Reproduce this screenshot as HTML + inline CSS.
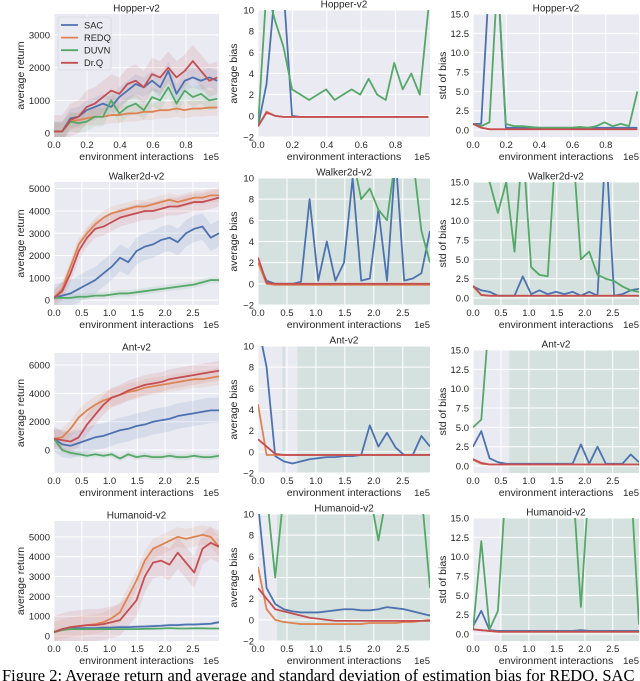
<!DOCTYPE html>
<html><head><meta charset="utf-8"><style>
body{margin:0;background:#fff;width:640px;height:681px;overflow:hidden}
svg{display:block}
text{font-family:"Liberation Sans",sans-serif;fill:#262626}
.cap{font-family:"Liberation Serif",serif;font-size:16.5px;fill:#000}
</style></head><body>
<svg id="fig" width="640" height="681" viewBox="0 0 640 681">
<text class="cap" x="2" y="681">Figure 2: Average return and average and standard deviation of estimation bias for REDQ, SAC</text>
</svg>
<script>
// ---- data (21 evenly spaced samples per series) ----
const hopRetSAC=[50,50,450,500,700,800,900,800,1100,1300,1500,1400,1600,1400,1900,1200,1600,1700,1600,1700,1600];
const hopRetREDQ=[50,50,350,400,450,500,500,550,550,600,600,650,650,700,700,750,700,750,750,780,780];
const hopRetDUVN=[50,50,350,300,350,500,500,1000,600,800,900,700,1100,1000,1400,900,1300,1100,1200,1000,1050];
const hopRetDrQ=[50,50,400,500,800,900,1100,1300,1200,1500,1600,1400,1800,1700,2000,1700,1900,2200,1900,1600,1700];
const hopBiasSAC=[-1,3,12,12,0,-0.1,-0.1,-0.1,-0.1,-0.1,-0.1,-0.1,-0.1,-0.1,-0.1,-0.1,-0.1,-0.1,-0.1,-0.1,-0.1];
const hopBiasREDQ=[-1,0.4,0,-0.1,-0.1,-0.1,-0.1,-0.1,-0.1,-0.1,-0.1,-0.1,-0.1,-0.1,-0.1,-0.1,-0.1,-0.1,-0.1,-0.1,-0.1];
const hopBiasDUVN=[-1,12,9,6.5,2.5,2,1.5,2,2.5,1.5,2,2.5,2,3.5,2,1.5,5,2.5,4,2,10];
const hopBiasDrQ=[-1,0.3,0,-0.1,-0.1,-0.1,-0.1,-0.1,-0.1,-0.1,-0.1,-0.1,-0.1,-0.1,-0.1,-0.1,-0.1,-0.1,-0.1,-0.1,-0.1];
const hopStdSAC=[0.8,0.8,20,20,0.3,0.3,0.3,0.3,0.3,0.3,0.3,0.3,0.3,0.3,0.3,0.3,0.3,0.3,0.3,0.3,0.3];
const hopStdREDQ=[0.8,0.3,0.1,0.1,0.1,0.1,0.1,0.1,0.1,0.1,0.1,0.1,0.1,0.1,0.1,0.1,0.1,0.1,0.1,0.1,0.1];
const hopStdDUVN=[0.8,0.5,1,20,0.8,0.5,0.5,0.4,0.3,0.3,0.3,0.3,0.3,0.4,0.3,0.5,1,0.5,0.8,0.5,5];
const hopStdDrQ=[0.8,0.3,0.1,0.1,0.1,0.1,0.1,0.1,0.1,0.1,0.1,0.1,0.1,0.1,0.1,0.1,0.1,0.1,0.1,0.1,0.1];

const walRetSAC=[100,200,300,500,700,900,1200,1500,1900,1700,2200,2400,2500,2700,2800,2600,3000,3200,3300,2800,3000];
const walRetREDQ=[100,500,1500,2500,3000,3400,3700,3900,4000,4100,4200,4200,4300,4400,4500,4400,4500,4600,4600,4700,4700];
const walRetDUVN=[100,100,100,150,150,200,200,250,300,300,350,400,450,500,550,600,650,700,800,900,900];
const walRetDrQ=[100,400,1200,2200,2800,3200,3300,3500,3700,3800,3900,4000,4000,4100,4200,4200,4300,4400,4400,4500,4600];
const walBiasSAC=[2,0.3,0,0,0,0.2,8,0.3,4,0.3,2,10,0.3,0.5,7,0.3,12,0.3,0.5,1,5];
const walBiasREDQ=[2,0,-0.1,-0.1,-0.1,-0.1,-0.1,-0.1,-0.1,-0.1,-0.1,-0.1,-0.1,-0.1,-0.1,-0.1,-0.1,-0.1,-0.1,-0.1,-0.1];
const walBiasDUVN=[12,12,12,12,12,12,12,12,12,12,12,12,8,9,7,6,12,12,12,5,2];
const walBiasDrQ=[2.5,0.1,0,0,0,0,0,0,0,0,0,0,0,0,0,0,0,0,0,0,0];
const walStdSAC=[1.5,1,0.8,0.3,0.3,0.3,2.8,0.5,1,0.5,0.8,0.5,0.8,0.3,0.8,0.3,20,0.3,0.5,1,1.2];
const walStdREDQ=[1.5,0.4,0.3,0.3,0.3,0.3,0.3,0.3,0.3,0.3,0.3,0.3,0.3,0.3,0.3,0.3,0.3,0.3,0.3,0.3,0.3];
const walStdDUVN=[20,20,15,11,15,6,20,4,3,2.8,20,20,20,5,6,3,2.5,2.2,1.5,1,0.8];
const walStdDrQ=[1.6,0.4,0.3,0.3,0.3,0.3,0.3,0.3,0.3,0.3,0.3,0.3,0.3,0.3,0.3,0.3,0.3,0.3,0.3,0.3,0.3];

const antRetSAC=[800,400,300,500,700,900,1000,1200,1400,1500,1700,1800,2000,2100,2200,2400,2500,2600,2700,2800,2800];
const antRetREDQ=[800,900,1500,2300,2800,3200,3500,3700,3900,4100,4200,4400,4500,4600,4700,4800,4900,5000,5000,5100,5200];
const antRetDUVN=[800,0,-200,-300,-400,-300,-400,-300,-600,-300,-500,-400,-500,-500,-400,-500,-500,-400,-500,-500,-400];
const antRetDrQ=[800,700,600,900,1800,2500,3200,3700,3900,4200,4400,4600,4700,4800,5000,5100,5200,5300,5400,5500,5600];
const antBiasSAC=[12,8,-0.4,-0.9,-1.1,-0.9,-0.7,-0.6,-0.5,-0.5,-0.4,-0.4,-0.3,2.5,0.5,1.8,0.4,-0.3,-0.3,1.5,0.5];
const antBiasREDQ=[4.5,-0.3,-0.3,-0.3,-0.3,-0.3,-0.3,-0.3,-0.3,-0.3,-0.3,-0.3,-0.3,-0.3,-0.3,-0.3,-0.3,-0.3,-0.3,-0.3,-0.3];
const antBiasDUVN=[15,15,15,15,15,15,15,15,15,15,15,15,15,15,15,15,15,15,15,15,15];
const antBiasDrQ=[1.2,0.5,-0.2,-0.3,-0.3,-0.3,-0.3,-0.3,-0.3,-0.3,-0.3,-0.3,-0.3,-0.3,-0.3,-0.3,-0.3,-0.3,-0.3,-0.3,-0.3];
const antStdSAC=[2.5,4.5,1,0.5,0.3,0.3,0.3,0.3,0.3,0.3,0.3,0.3,0.3,2.8,0.3,2.5,0.3,0.3,0.3,1.5,0.5];
const antStdREDQ=[0.8,0.3,0.2,0.2,0.2,0.2,0.2,0.2,0.2,0.2,0.2,0.2,0.2,0.2,0.2,0.2,0.2,0.2,0.2,0.2,0.2];
const antStdDUVN=[5,6,20,20,20,20,20,20,20,20,20,20,20,20,20,20,20,20,20,20,20];
const antStdDrQ=[0.9,0.4,0.2,0.2,0.2,0.2,0.2,0.2,0.2,0.2,0.2,0.2,0.2,0.2,0.2,0.2,0.2,0.2,0.2,0.2,0.2];

const humRetSAC=[200,350,400,400,400,400,420,430,450,450,470,480,500,520,550,550,580,580,600,620,700];
const humRetREDQ=[200,350,450,500,550,600,700,900,1200,2000,2800,3800,4400,4600,4800,5000,4900,5000,5100,5000,4500];
const humRetDUVN=[200,300,350,350,350,350,350,350,350,350,350,360,370,380,400,380,380,390,390,380,380];
const humRetDrQ=[200,350,450,500,550,550,600,700,800,1300,1800,3000,3700,3800,3600,4200,3700,3200,4400,4700,4500];
const humBiasSAC=[11,3,1.5,1,0.8,0.7,0.7,0.7,0.8,0.9,1.0,1.0,0.9,0.9,1.0,1.2,1.1,1.0,0.8,0.6,0.4];
const humBiasREDQ=[5,1,0,-0.2,-0.3,-0.4,-0.4,-0.4,-0.4,-0.4,-0.4,-0.4,-0.4,-0.3,-0.3,-0.3,-0.3,-0.2,-0.2,-0.1,0];
const humBiasDUVN=[12,12,4,12,12,12,12,12,12,12,12,12,12,12,7.5,12,12,12,12,12,3];
const humBiasDrQ=[3,2,1,0.8,0.6,0.4,0.2,0.1,0,-0.1,-0.1,-0.1,-0.1,-0.1,-0.1,-0.1,-0.1,-0.1,-0.1,-0.1,-0.1];
const humStdSAC=[1,3,0.5,0.4,0.4,0.4,0.4,0.4,0.4,0.4,0.4,0.4,0.4,0.5,0.4,0.4,0.4,0.4,0.4,0.4,0.4];
const humStdREDQ=[0.6,0.5,0.4,0.3,0.3,0.3,0.3,0.3,0.3,0.3,0.3,0.3,0.3,0.3,0.3,0.3,0.3,0.3,0.3,0.3,0.3];
const humStdDUVN=[0.5,12,0.6,3,20,20,20,20,20,20,20,20,20,3.5,20,20,20,20,20,20,1.2];
const humStdDrQ=[0.6,0.5,0.4,0.3,0.3,0.3,0.3,0.3,0.3,0.3,0.3,0.3,0.3,0.3,0.3,0.3,0.3,0.3,0.3,0.3,0.3];

const walBiasBands=[[0,2.97]];
const walStdBands=[[0,2.97]];
const antBiasBands=[[0.42,0.47],[0.68,2.97]];
const antStdBands=[[0.65,2.97]];
const humBiasBands=[[0.33,2.97]];
const humStdBands=[[0.5,2.97]];
const hopSpread=[300,250,300,500];
const walSpread=[600,300,150,400];
const antSpread=[900,600,200,700];
const humSpread=[80,500,50,800];

const seriesNames=['SAC','REDQ','DUVN','Dr.Q'];
const colors=['#4c72b0','#dd8452','#55a868','#c44e52'];
const envTitles=['Hopper-v2','Walker2d-v2','Ant-v2','Humanoid-v2'];
const retTicks=[[0,1000,2000,3000],[0,1000,2000,3000,4000,5000],[0,2000,4000,6000],[0,1000,2000,3000,4000,5000]];
const retLims=[[-120,3640],[-220,5300],[-1620,6850],[-250,5800]];
const biasTicks=[-2,0,2,4,6,8,10];
const stdTicks=[0,2.5,5,7.5,10,12.5,15];
const stdTickLabels=['0.0','2.5','5.0','7.5','10.0','12.5','15.0'];
const hopXTicks=[0,0.2,0.4,0.6,0.8];
const longXTicks=[0,0.5,1,1.5,2,2.5];

const retData=[[hopRetSAC,hopRetREDQ,hopRetDUVN,hopRetDrQ],[walRetSAC,walRetREDQ,walRetDUVN,walRetDrQ],[antRetSAC,antRetREDQ,antRetDUVN,antRetDrQ],[humRetSAC,humRetREDQ,humRetDUVN,humRetDrQ]];
const biasData=[[hopBiasSAC,hopBiasREDQ,hopBiasDUVN,hopBiasDrQ],[walBiasSAC,walBiasREDQ,walBiasDUVN,walBiasDrQ],[antBiasSAC,antBiasREDQ,antBiasDUVN,antBiasDrQ],[humBiasSAC,humBiasREDQ,humBiasDUVN,humBiasDrQ]];
const stdData=[[hopStdSAC,hopStdREDQ,hopStdDUVN,hopStdDrQ],[walStdSAC,walStdREDQ,walStdDUVN,walStdDrQ],[antStdSAC,antStdREDQ,antStdDUVN,antStdDrQ],[humStdSAC,humStdREDQ,humStdDUVN,humStdDrQ]];
const biasBands=[[],walBiasBands,antBiasBands,humBiasBands];
const stdBands=[[],walStdBands,antStdBands,humStdBands];
const spreads=[hopSpread,walSpread,antSpread,humSpread];

const NS='http://www.w3.org/2000/svg';
const svg=document.getElementById('fig');
function mk(tag,attrs,parent){const e=document.createElementNS(NS,tag);for(const k in attrs)e.setAttribute(k,attrs[k]);(parent||svg).appendChild(e);return e;}
let clipId=0;

function panel(o){
  const g=mk('g',{});
  
  
  const L=o.x0,R=o.x1,T=o.y0,B=o.y1;
  const sx=v=>L+(v-o.xlim[0])/(o.xlim[1]-o.xlim[0])*(R-L);
  const sy=v=>B-(v-o.ylim[0])/(o.ylim[1]-o.ylim[0])*(B-T);
  const bg=mk('rect',{x:L,y:T,width:R-L,height:B-T,fill:'#eaeaf2'},g);
  
  
  const cid='c'+(clipId++);
  const cp=mk('clipPath',{id:cid},g);mk('rect',{x:L,y:T,width:R-L,height:B-T},cp);
  const inner=mk('g',{'clip-path':'url(#'+cid+')'},g);
  (o.bands||[]).forEach(b=>{
    const r=mk('rect',{x:sx(b[0]),y:T,width:sx(b[1])-sx(b[0]),height:B-T,fill:'#55a868','fill-opacity':0.14},inner);
    
    
  });
  o.xticks.forEach(t=>{
    mk('line',{x1:sx(t),x2:sx(t),y1:T,y2:B,stroke:'#fff','stroke-width':1},inner);
    const tx=mk('text',{x:sx(t),y:B+11,'font-size':9.5,'text-anchor':'middle'},g);
    
    
    tx.textContent=t.toFixed(1);
  });
  o.yticks.forEach((t,i)=>{
    mk('line',{x1:L,x2:R,y1:sy(t),y2:sy(t),stroke:'#fff','stroke-width':1},inner);
    const ty=mk('text',{x:L-4,y:sy(t)+3.5,'font-size':9.5,'text-anchor':'end'},g);
    
    
    ty.textContent=o.ylabels?o.ylabels[i]:(t<0?'\u2212'+(-t):String(t));
  });
  const n=o.series[0].length;
  const xs=i=>o.xmax*i/(n-1);
  if(o.spread){
    o.series.forEach((s,k)=>{
      const up=s.map((v,i)=>sx(xs(i))+','+sy(v+o.spread[k]));
      const dn=s.map((v,i)=>sx(xs(i))+','+sy(v-o.spread[k])).reverse();
      const p=mk('polygon',{points:up.concat(dn).join(' '),fill:colors[k],'fill-opacity':0.12},inner);
      
      
    });
  }
  o.series.forEach((s,k)=>{
    const pts=s.map((v,i)=>sx(xs(i))+','+sy(v)).join(' ');
    const pl=mk('polyline',{points:pts,fill:'none',stroke:colors[k],'stroke-width':1.8,'stroke-linejoin':'round'},inner);
    
    
  });
  const tt=mk('text',{x:(L+R)/2,y:T-2.5,'font-size':10,'text-anchor':'middle'},g);
  
  
  tt.textContent=o.title;
  const xl=mk('text',{x:(L+R)/2,y:B+23,'font-size':10.5,'text-anchor':'middle'},g);
  
  
  xl.textContent='environment interactions';
  const ex=mk('text',{x:R,y:B+23,'font-size':9.5,'text-anchor':'end'},g);
  
  
  ex.textContent='1e5';
  const yl=mk('text',{x:o.ylabX,y:(T+B)/2,'font-size':10.5,'text-anchor':'middle',transform:'rotate(-90 '+o.ylabX+' '+(T+B)/2+')'},g);
  
  
  yl.textContent=o.ylab;
  return g;
}

for(let r=0;r<4;r++){
  const off=168*r, B=137+off;
  const xlim=r===0?[0,1.0]:[0,2.97], xmax=r===0?0.99:2.97, xt=r===0?hopXTicks:longXTicks;
  panel({name:'return-panel-'+(r+1),x0:54,x1:219,y0:[14,182,353,521][r],y1:B,xlim,xmax,ylim:retLims[r],
    xticks:xt,yticks:retTicks[r],series:retData[r],spread:spreads[r],title:envTitles[r],ylab:'average return',ylabX:24});
  panel({name:'bias-panel-'+(r+1),x0:258,x1:430,y0:10+off,y1:B,xlim,xmax,ylim:[-2,10],
    xticks:xt,yticks:biasTicks,series:biasData[r],bands:biasBands[r],title:envTitles[r],ylab:'average bias',ylabX:237});
  panel({name:'std-panel-'+(r+1),x0:473,x1:639,y0:14+off,y1:B,xlim,xmax,ylim:[-0.9,15],
    xticks:xt,yticks:stdTicks,ylabels:stdTickLabels,series:stdData[r],bands:stdBands[r],title:envTitles[r],ylab:'std of bias',ylabX:446});
}

const lg=mk('g',{});


mk('rect',{x:58,y:17,width:53,height:53,rx:2,fill:'#eaeaf2','fill-opacity':0.85,stroke:'#d0d0d8','stroke-width':0.6},lg);
seriesNames.forEach((nm,k)=>{
  const y=25+12.6*k;
  const ln=mk('line',{x1:61,x2:78,y1:y,y2:y,stroke:colors[k],'stroke-width':1.8},lg);
  
  
  const t=mk('text',{x:84,y:y+3.3,'font-size':9.3},lg);
  
  
  t.textContent=nm;
});
const cap=svg.querySelector('.cap');svg.appendChild(cap);
</script>
</body></html>
